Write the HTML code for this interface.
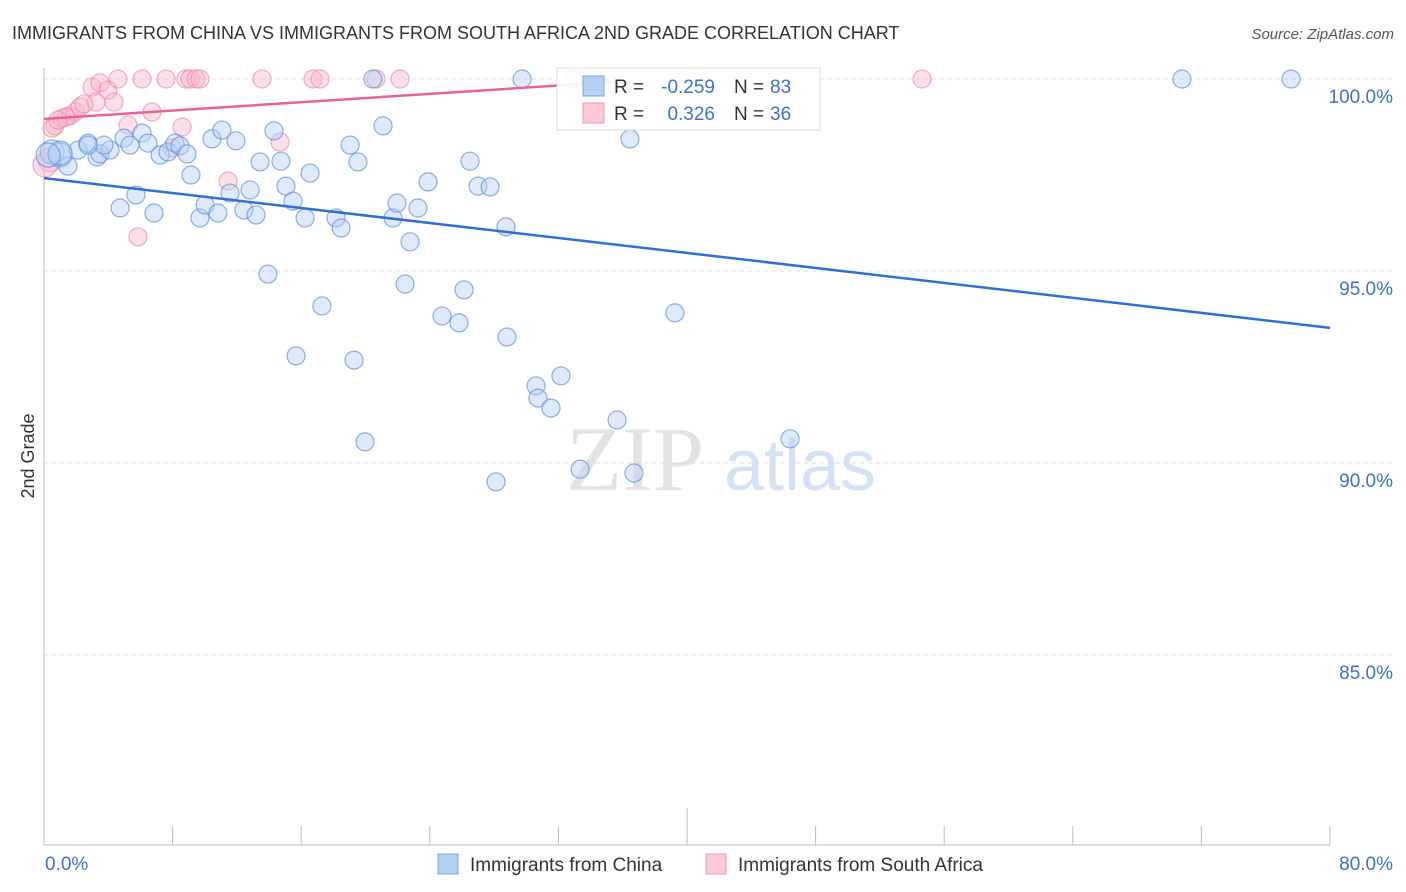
<!DOCTYPE html>
<html><head><meta charset="utf-8"><style>
body{margin:0;background:#fff;font-family:"Liberation Sans",sans-serif;}
svg{display:block}
</style></head><body>
<svg id="chart" width="1406" height="892">
<text x="12" y="39" font-size="18" fill="#333">IMMIGRANTS FROM CHINA VS IMMIGRANTS FROM SOUTH AFRICA 2ND GRADE CORRELATION CHART</text>
<text x="1394" y="39" font-size="15" fill="#555" font-style="italic" text-anchor="end">Source: ZipAtlas.com</text>
<text x="34" y="456" font-size="18" fill="#333" text-anchor="middle" transform="rotate(-90 34 456)">2nd Grade</text>
<g><text x="635" y="490" font-size="92" fill="#ddd" font-family="Liberation Serif,serif" text-anchor="middle" opacity="0.8">ZIP</text><text x="800" y="490" font-size="72" fill="#c9dcf3" text-anchor="middle" opacity="0.8">atlas</text></g>
<g id="grid"></g><g id="axes"></g><g id="pts"></g><g id="lines"></g>
<g>
<rect x="557" y="68" width="263" height="62" fill="#fff" fill-opacity="0.9" stroke="#ddd"/>
<rect x="583" y="76" width="21" height="20" fill="#b5d0f3" stroke="#7aa6e0"/>
<rect x="583" y="103" width="21" height="20" fill="#fcc8d6" stroke="#f09ab3"/>
<text x="614" y="93" font-size="19" fill="#333">R =</text><text x="715" y="93" font-size="19" fill="#3b71d0" text-anchor="end">-0.259</text>
<text x="734" y="93" font-size="19" fill="#333">N =</text><text x="770" y="93" font-size="19" fill="#3b71d0">83</text>
<text x="614" y="120" font-size="19" fill="#333">R =</text><text x="715" y="120" font-size="19" fill="#3b71d0" text-anchor="end">0.326</text>
<text x="734" y="120" font-size="19" fill="#333">N =</text><text x="770" y="120" font-size="19" fill="#3b71d0">36</text>
</g>
<g>
<rect x="438" y="854" width="20" height="20" fill="#b5d0f3" stroke="#7aa6e0"/>
<text x="470" y="871" font-size="19" fill="#333">Immigrants from China</text>
<rect x="706" y="854" width="20" height="20" fill="#fcc8d6" stroke="#f09ab3"/>
<text x="738" y="871" font-size="19" fill="#333">Immigrants from South Africa</text>
</g>
</svg>
<script>
const yTicks=[100,95,90,85];
const yTickLabels=["100.0%","95.0%","90.0%","85.0%"];
const xTickLabels=["0.0%","80.0%"];
const chinaX=[0.50,1.00,1.49,2.12,2.74,3.30,3.48,4.11,3.73,4.98,5.35,6.10,6.47,7.22,7.71,8.15,8.46,8.90,9.14,10.45,11.07,11.94,4.73,5.72,6.84,9.70,10.02,10.82,11.57,12.44,12.82,13.19,13.44,13.93,14.31,14.74,15.05,15.49,16.24,16.55,15.68,17.29,18.17,18.48,19.04,19.53,19.29,19.97,20.46,21.09,21.71,21.96,22.46,22.77,23.27,23.89,24.76,25.82,26.13,26.50,27.00,27.75,28.12,28.74,28.80,29.74,30.61,30.73,31.54,32.16,32.91,33.35,34.59,35.65,36.45,36.70,39.25,46.41,70.79,77.58,1.00,0.25,2.74];
const chinaY=[98.10,98.02,97.73,98.15,98.33,97.97,98.05,98.15,98.28,98.46,98.28,98.59,98.33,98.02,98.10,98.33,98.26,98.05,97.50,98.44,98.67,98.39,96.64,96.98,96.51,96.38,96.72,96.51,97.03,96.59,97.11,96.46,97.84,94.92,98.65,97.86,97.21,96.82,96.38,97.55,92.79,94.09,96.38,96.12,98.28,97.84,92.68,90.55,100,98.78,96.38,96.77,94.66,95.76,96.64,97.32,93.83,93.65,94.51,97.86,97.21,97.19,89.51,96.15,93.28,100,92.01,91.69,91.43,92.27,100,89.84,99.79,91.12,98.44,89.74,93.91,90.63,100,100,98.07,98.02,98.28];
const saX=[0.68,0.50,1.12,1.62,1.93,2.24,2.99,3.23,3.48,3.98,4.35,4.60,5.23,5.85,6.10,6.72,7.59,7.96,8.83,9.08,9.46,8.59,9.70,11.45,13.56,14.68,16.73,17.17,20.65,22.15,54.62,0.37,1.37,2.49,0.87,0.06];
const saY=[98.78,98.72,98.98,99.04,99.14,99.27,99.79,99.40,99.90,99.71,99.40,100,98.80,95.89,100,99.14,100,98.20,100,100,100,98.75,100,97.34,100,98.36,100,100,100,100,100,97.89,99.01,99.35,98.93,97.76];
const chinaTrend=[97.42,93.52];
const saTrend=[98.96,99.94];
const saTrendEnd=36;
const NS="http://www.w3.org/2000/svg";
const X=v=>44+v/80*1286, Y=v=>79+(100-v)*38.4;
function mk(t,a,p){const e=document.createElementNS(NS,t);for(const k in a)e.setAttribute(k,a[k]);p.appendChild(e);return e;}
const grid=document.getElementById('grid'),axes=document.getElementById('axes'),pts=document.getElementById('pts'),lines=document.getElementById('lines');
yTicks.forEach((t,i)=>{
 const l=mk('line',{x1:44,x2:1394,y1:Y(t),y2:Y(t),stroke:'#ddd','stroke-dasharray':'4 4'},grid);
 
 
 const tx=mk('text',{x:1393,y:Y(t)+24,'font-size':19,fill:'#3b71d0','text-anchor':'end'},axes);
 tx.textContent=yTickLabels[i];
 
 
});
const ya=mk('line',{x1:44,x2:44,y1:68,y2:845,stroke:'#bbb'},axes);


const xa=mk('line',{x1:44,x2:1330,y1:845,y2:845,stroke:'#bbb'},axes);


for(let i=0;i<=10;i++){
 const v=i*8;
 const tk=mk('line',{x1:X(v),x2:X(v),y1:i==5?808:826,y2:845,stroke:'#bbb'},axes);
 
 
}
[[0,'start',45],[80,'end',1393]].forEach((d,i)=>{
 const tx=mk('text',{x:d[2],y:870,'font-size':19,fill:'#3b71d0','text-anchor':d[1]},axes);
 tx.textContent=xTickLabels[i];
 
 
});
function dots(xs,ys,fill,stroke,name){
 xs.forEach((x,i)=>{
  const r=(x<1.2&&ys[i]<98.3&&ys[i]>97.7)?12:9;
  const c=mk('circle',{cx:X(x),cy:Y(ys[i]),r:r,fill:fill,'fill-opacity':0.45,stroke:stroke,'stroke-opacity':0.7,'stroke-width':1.2},pts);
  
  
 });
}
dots(saX,saY,'#f9b8cb','#ef8aa8','point-south-africa');
dots(chinaX,chinaY,'#b5d0f3','#5b8fdc','point-china');
const bl=mk('line',{x1:X(0),y1:Y(chinaTrend[0]),x2:X(80),y2:Y(chinaTrend[1]),stroke:'#2f6fd6','stroke-width':2.5},lines);


const pl=mk('line',{x1:X(0),y1:Y(saTrend[0]),x2:X(saTrendEnd),y2:Y(saTrend[1]),stroke:'#e8638e','stroke-width':2.5},lines);


</script>
</body></html>
